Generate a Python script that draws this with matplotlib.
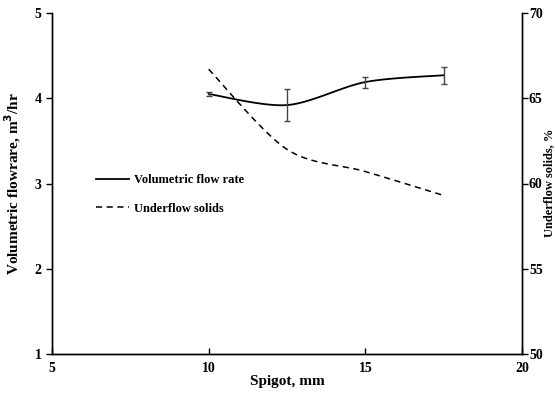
import numpy as np
import matplotlib.pyplot as plt

plt.rcParams['font.family'] = ['Liberation Serif', 'DejaVu Serif']
plt.rcParams['font.weight'] = 'bold'

spigot = [10, 12.5, 15, 17.5]
flow_rate = [4.05, 3.92, 4.19, 4.27]
flow_err = [0.02, 0.19, 0.065, 0.10]
underflow = [66.7, 62.0, 60.7, 59.3]


def smooth(x, y, n=40):
    # Catmull-Rom style smoothing like spreadsheet "smoothed line"
    x = np.asarray(x, float)
    y = np.asarray(y, float)
    px = np.concatenate([[x[0]], x, [x[-1]]])
    py = np.concatenate([[y[0]], y, [y[-1]]])
    xs, ys = [], []
    t = np.linspace(0, 1, n)
    for i in range(1, len(px) - 2):
        p0, p1, p2, p3 = [np.array([px[j], py[j]]) for j in (i - 1, i, i + 1, i + 2)]
        m1 = (p2 - p0) / 2 * 0.9
        m2 = (p3 - p1) / 2 * 0.9
        h00 = 2 * t**3 - 3 * t**2 + 1
        h10 = t**3 - 2 * t**2 + t
        h01 = -2 * t**3 + 3 * t**2
        h11 = t**3 - t**2
        pts = np.outer(h00, p1) + np.outer(h10, m1) + np.outer(h01, p2) + np.outer(h11, m2)
        xs.extend(pts[:, 0])
        ys.extend(pts[:, 1])
    return np.array(xs), np.array(ys)


fig = plt.figure(figsize=(5.55, 3.97), dpi=100)
ax = fig.add_axes([52 / 555, 1 - 354 / 397, 470 / 555, 341 / 397])
ax2 = ax.twinx()

sx, sy = smooth(spigot, flow_rate)
l1, = ax.plot(sx, sy, color='black', lw=1.3, label='Volumetric flow rate')
ax.errorbar(spigot, flow_rate, yerr=flow_err, fmt='none', ecolor='#444444',
            elinewidth=1, capsize=2.5, capthick=1)

ux, uy = smooth(spigot, underflow)
l2, = ax2.plot(ux, uy, color='black', lw=1.1, ls=(0, (4, 3)), label='Underflow solids')

ax.set_xlim(5, 20)
ax.set_ylim(1, 5)
ax2.set_ylim(50, 70)
ax.set_xticks([5, 10, 15, 20])
ax.set_yticks([1, 2, 3, 4, 5])
ax2.set_yticks([50, 55, 60, 65, 70])

for a in (ax, ax2):
    a.spines['top'].set_visible(False)
    for s in a.spines.values():
        s.set_linewidth(1.0)
    a.tick_params(labelsize=10, length=4, width=1)
ax.tick_params(axis='x', direction='in', pad=6)
ax.tick_params(axis='y', direction='out')
ax2.tick_params(axis='y', direction='out', pad=1)

ax.set_xlabel('Spigot, mm', fontsize=11, fontweight='bold', labelpad=0)
ax.set_ylabel('Volumetric flowrare, m$^\\mathbf{3}$/hr', fontsize=11, fontweight='bold', labelpad=8)
# right axis title squeezed against the figure edge
fig.text(549.5 / 555, 0.54, 'Underflow solids, %', fontsize=9, fontweight='bold',
         rotation=90, ha='center', va='center')

ax.legend(handles=[l1, l2], loc='upper left', bbox_to_anchor=(0.07, 0.56),
          frameon=False, fontsize=9, handlelength=2.6, labelspacing=1.3, handletextpad=0.4)

fig.savefig('out.png', dpi=100)
